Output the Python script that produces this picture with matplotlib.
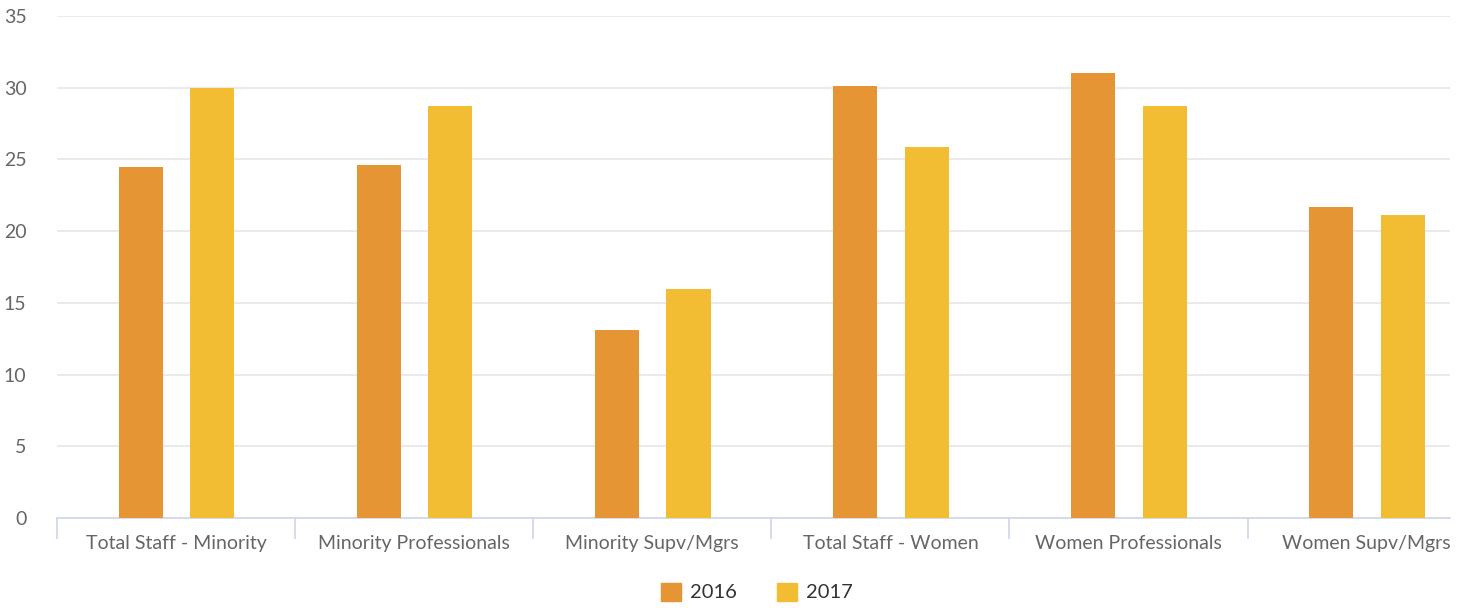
import numpy as np
import matplotlib
matplotlib.use("Agg")
import matplotlib.pyplot as plt
from matplotlib.transforms import Bbox, TransformedBbox
from matplotlib.patches import Patch

plt.rcParams['font.family'] = ['Lato', 'DejaVu Sans']

categories = ["Total Staff - Minority", "Minority Professionals", "Minority Supv/Mgrs",
              "Total Staff - Women", "Women Professionals", "Women Supv/Mgrs"]
series_names = ["2016", "2017"]
values_2016 = [24.5, 24.6, 13.1, 30.1, 31.0, 21.7]
values_2017 = [30.0, 28.7, 16.0, 25.9, 28.7, 21.1]
colors = ["#e59534", "#f3bd33"]

W, H = 1471, 608
fig = plt.figure(figsize=(W / 100, H / 100), dpi=100)
# plot area in pixels: x 57..1450, y 16..518
ax = fig.add_axes([57 / W, 1 - 518 / H, (1450 - 57) / W, (518 - 16) / H])

x = np.arange(len(categories))
bw = 0.185
ax.bar(x - 0.148, values_2016, width=bw, color=colors[0], zorder=3)
ax.bar(x + 0.152, values_2017, width=bw, color=colors[1], zorder=3)

ax.set_ylim(0, 35)
ax.set_xlim(-0.5, 5.35)
ax.set_yticks(np.arange(0, 36, 5))
ax.grid(axis="y", color="#e6e6e6", linewidth=1.2, zorder=0)
ax.set_axisbelow(True)

for s in ["top", "right", "left"]:
    ax.spines[s].set_visible(False)
ax.spines["bottom"].set_color("#ccd6eb")
ax.spines["bottom"].set_linewidth(1.2)

# category labels at centers, boundary ticks between categories
ax.set_xticks(x)
ax.set_xticklabels(categories)
ax.tick_params(axis="x", length=0, pad=12, labelsize=14, labelcolor="#666666")
ax.set_xticks(np.arange(-0.5, 5.5, 1), minor=True)
ax.tick_params(axis="x", which="minor", length=15, color="#ccd6eb", width=1.2)
ax.tick_params(axis="y", length=0, pad=22, labelsize=14, labelcolor="#666666")

clip = TransformedBbox(Bbox([[0, 0], [1450 / W, 1]]), fig.transFigure)
for lab in ax.get_xticklabels():
    lab.set_clip_box(clip)
    lab.set_clip_on(True)

handles = [Patch(color=c, label=n) for c, n in zip(colors, series_names)]
fig.legend(handles=handles, loc="center", bbox_to_anchor=(757 / W, 1 - 592 / H),
           ncol=2, frameon=False, fontsize=14.5, handlelength=1.0, handleheight=1.0,
           columnspacing=2.0, handletextpad=0.45, labelcolor="#333333")

fig.savefig("out.png", dpi=100)
